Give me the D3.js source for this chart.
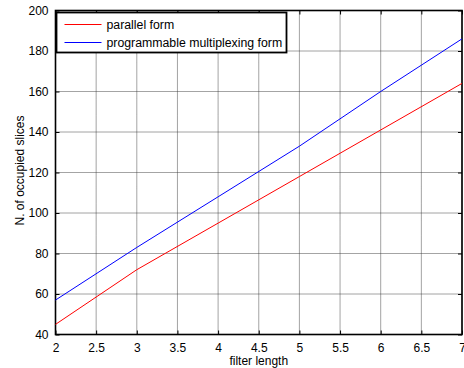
<!DOCTYPE html>
<head>
    <meta charset="utf-8" />
    <script src="https://d3js.org/d3.v7.min.js"></script>
    <style>
        body { margin: 0; background: #fff; }
        text { font-family: "Liberation Sans", Arial, sans-serif; }
    </style>
</head>
<body>
<div id="chart"></div>
<script>
    // donnees
    const filterLength = [2, 3, 4, 5, 6, 7];
    const parallelForm = [45, 72, 95, 118, 141, 164];
    const multiplexForm = [57, 83, 108, 133, 160, 186];
    const xTicks = [2, 2.5, 3, 3.5, 4, 4.5, 5, 5.5, 6, 6.5, 7];
    const yTicks = [40, 60, 80, 100, 120, 140, 160, 180, 200];

    const W = 464, H = 368;
    const margin = {top: 10.5, right: 2, bottom: 33.5, left: 55.5};
    const width = W - margin.left - margin.right,
        height = H - margin.top - margin.bottom;

    const svg = d3.select("#chart").append("svg")
        .attr("width", W).attr("height", H);
    const g = svg.append("g")
        .attr("transform", "translate(" + margin.left + "," + margin.top + ")");

    const x = d3.scaleLinear().domain([2, 7]).range([0, width]);
    const y = d3.scaleLinear().domain([40, 200]).range([height, 0]);

    // grille pointillee
    g.selectAll(".gx").data(xTicks).enter().append("line")
        .attr("x1", d => x(d)).attr("x2", d => x(d))
        .attr("y1", 0).attr("y2", height)
        .attr("stroke", "#333").attr("stroke-width", 0.9)
        .attr("stroke-dasharray", "1,1");
    g.selectAll(".gy").data(yTicks).enter().append("line")
        .attr("x1", 0).attr("x2", width)
        .attr("y1", d => y(d)).attr("y2", d => y(d))
        .attr("stroke", "#333").attr("stroke-width", 0.9)
        .attr("stroke-dasharray", "1,1");

    // axes avec graduations vers l'interieur
    const fmt = d3.format("");
    g.append("g").attr("transform", "translate(0," + height + ")")
        .call(d3.axisBottom(x).tickValues(xTicks).tickSize(-4).tickPadding(9).tickFormat(fmt));
    g.append("g")
        .call(d3.axisTop(x).tickValues(xTicks).tickSize(-4).tickFormat(""));
    g.append("g")
        .call(d3.axisLeft(y).tickValues(yTicks).tickSize(-4).tickPadding(7).tickFormat(fmt));
    g.append("g").attr("transform", "translate(" + width + ",0)")
        .call(d3.axisRight(y).tickValues(yTicks).tickSize(-4).tickFormat(""));

    g.selectAll(".domain").remove();
    g.selectAll(".tick line").attr("stroke", "#000");
    g.selectAll(".tick text").attr("font-size", 12)
        .attr("font-family", "Liberation Sans, Arial, sans-serif").attr("fill", "#000");

    g.append("rect").attr("width", width).attr("height", height)
        .attr("fill", "none").attr("stroke", "#000").attr("stroke-width", 1.6);

    // courbes
    const line = d3.line().x(d => x(d[0])).y(d => y(d[1]));
    const series = [
        {name: "parallel form", values: parallelForm, color: "#ff0000"},
        {name: "programmable multiplexing form", values: multiplexForm, color: "#0000ff"}
    ];
    series.forEach(function(s) {
        g.append("path")
            .datum(filterLength.map((f, i) => [f, s.values[i]]))
            .attr("d", line)
            .attr("fill", "none")
            .attr("stroke", s.color)
            .attr("stroke-width", 1);
    });

    // legende
    const leg = g.append("g").attr("transform", "translate(1,2)");
    leg.append("rect").attr("width", 230).attr("height", 40)
        .attr("fill", "#fff").attr("stroke", "#000").attr("stroke-width", 1.8);
    series.forEach(function(s, i) {
        const yy = 12 + i * 18;
        leg.append("line").attr("x1", 8).attr("x2", 45)
            .attr("y1", yy).attr("y2", yy)
            .attr("stroke", s.color).attr("stroke-width", 1);
        leg.append("text").attr("x", 50).attr("y", yy + 4)
            .attr("font-size", 12.3).text(s.name);
    });

    // titres des axes
    svg.append("text")
        .attr("x", margin.left + width / 2).attr("y", 365)
        .attr("text-anchor", "middle").attr("font-size", 12)
        .text("filter length");
    svg.append("text")
        .attr("transform", "translate(24," + (margin.top + height / 2 - 2) + ") rotate(-90)")
        .attr("text-anchor", "middle").attr("font-size", 12)
        .text("N. of occupied slices");
</script>
</body>
